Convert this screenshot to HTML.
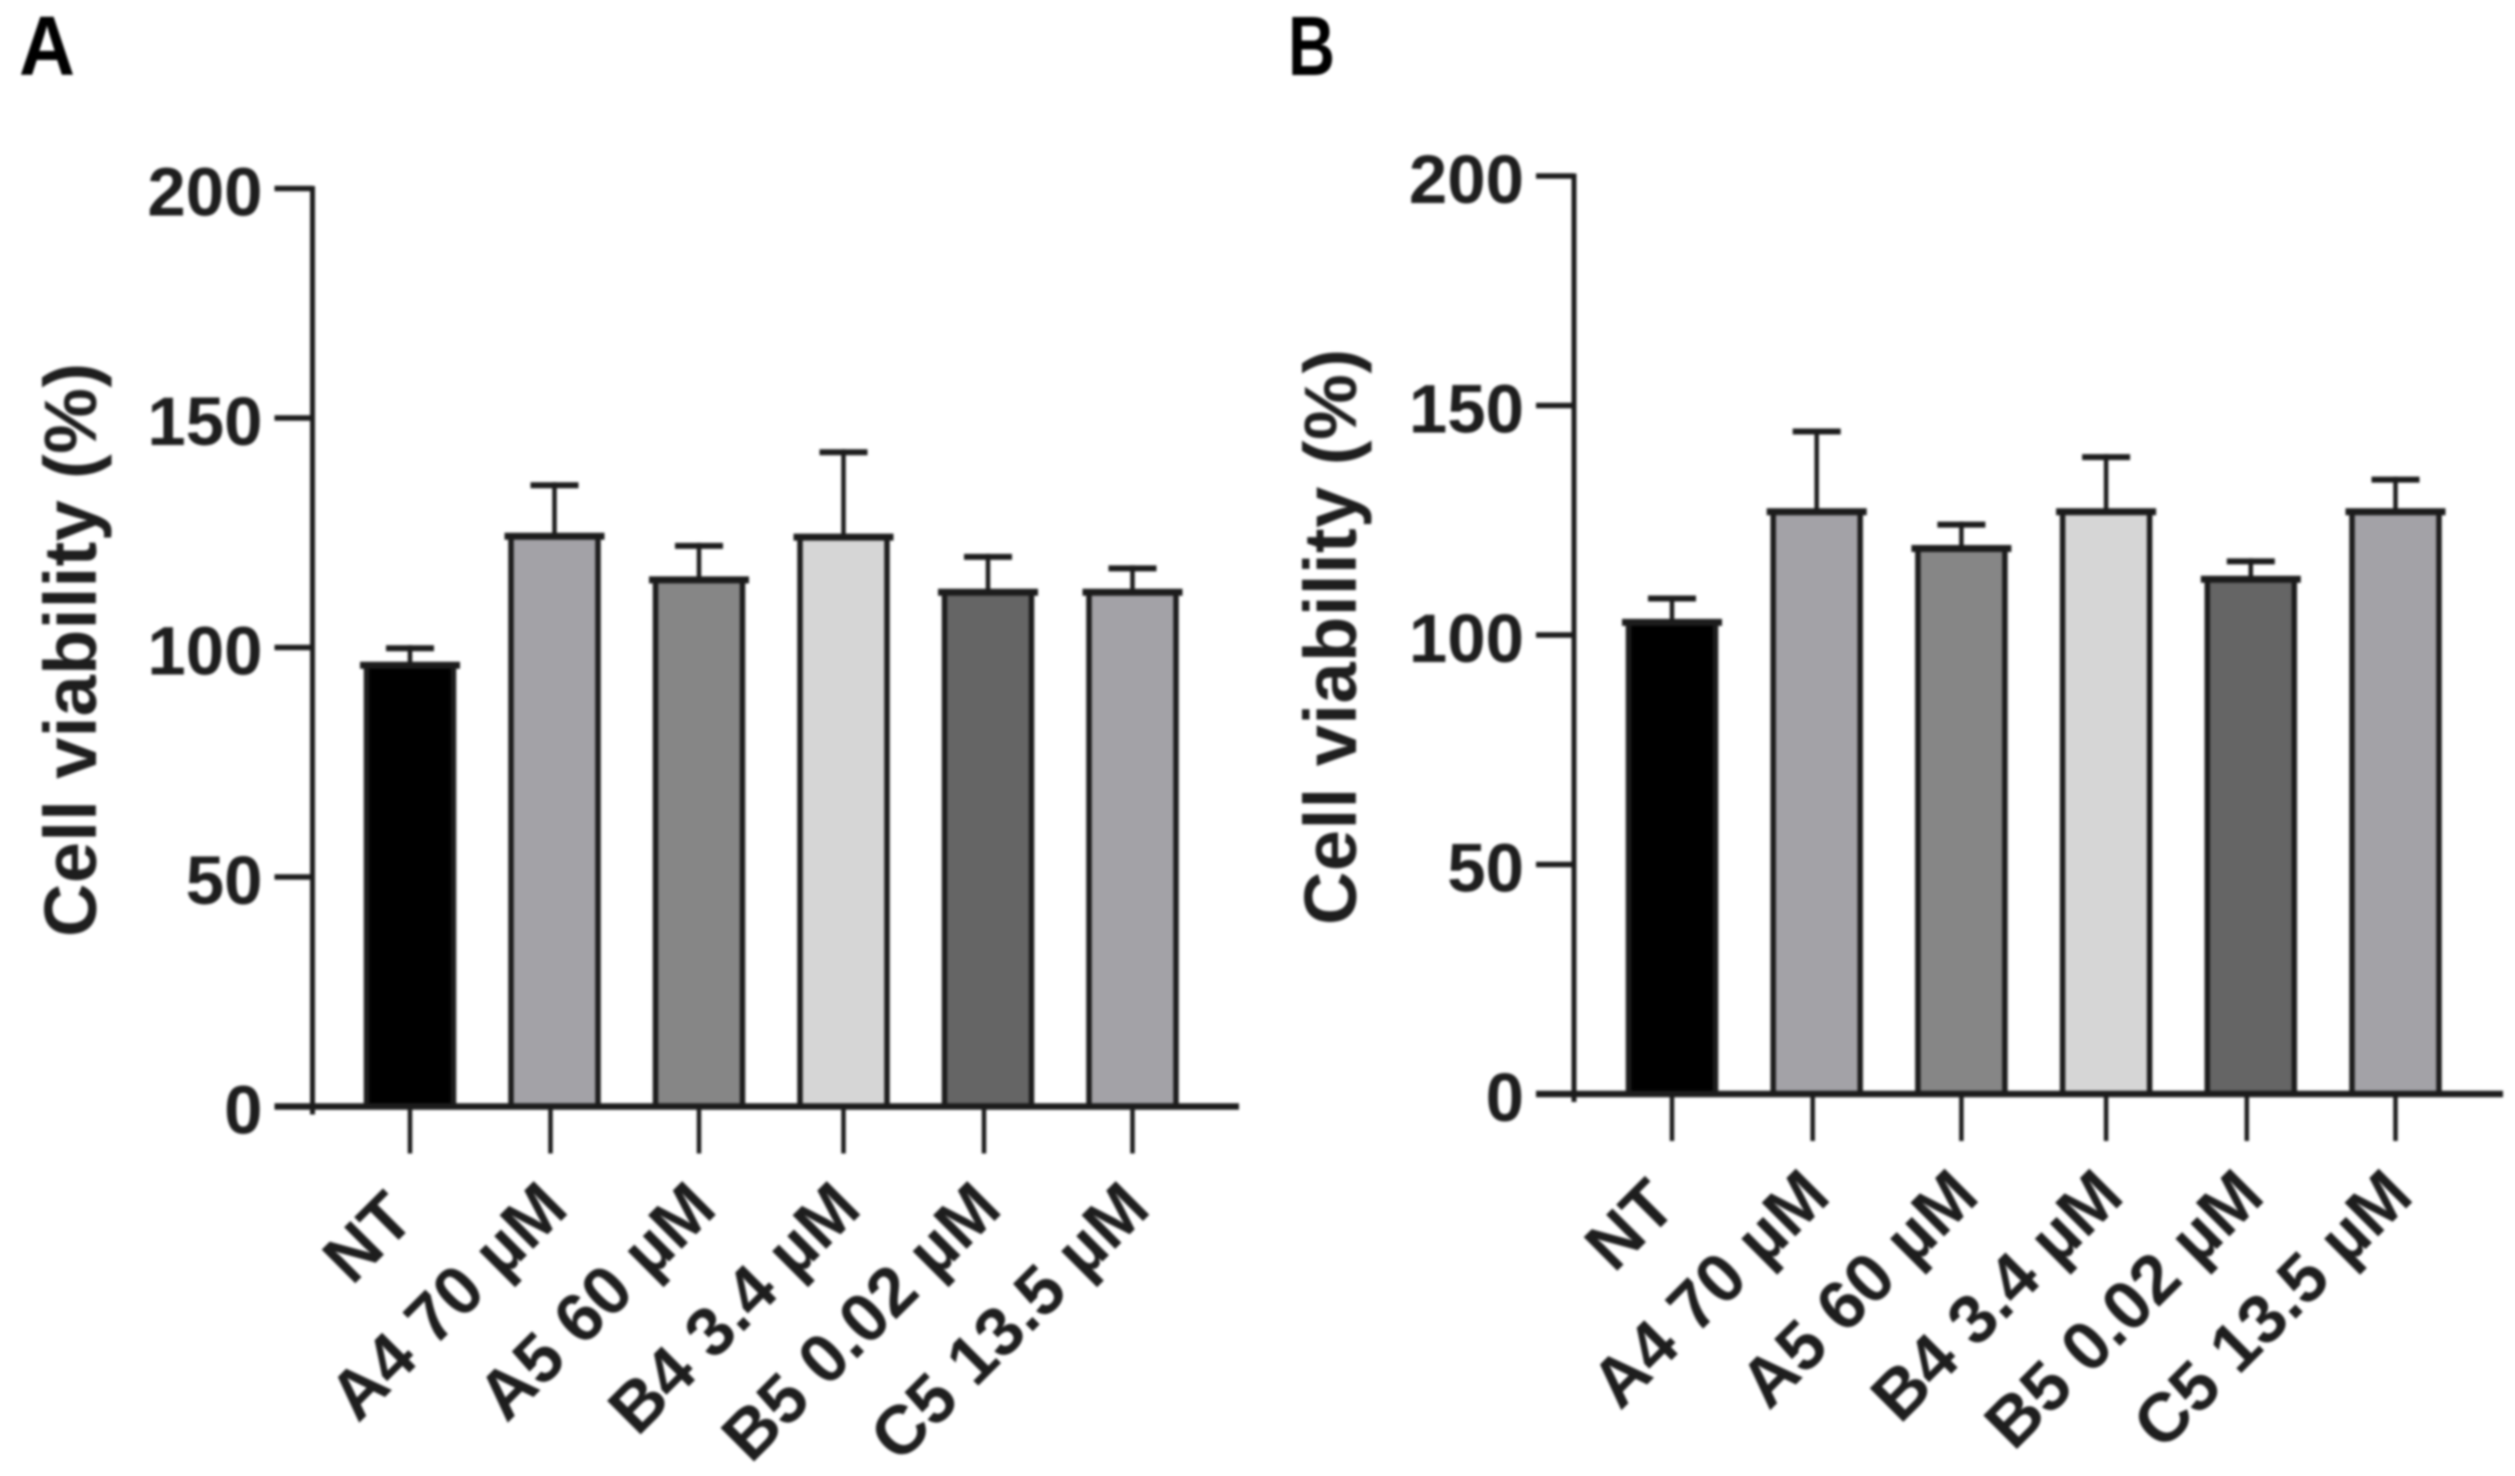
<!DOCTYPE html>
<html lang="en">
<head>
<meta charset="utf-8">
<title>Cell viability bar charts</title>
<style>
  html, body { margin: 0; padding: 0; background: #ffffff; }
  body { width: 2515px; height: 1476px; overflow: hidden; }
  svg { display: block; filter: blur(1.2px); }
  text { font-family: "Liberation Sans", Arial, sans-serif; fill: #1e1e1e; }
</style>
</head>
<body>
<svg id="figure" xmlns="http://www.w3.org/2000/svg" width="2515" height="1476" viewBox="0 0 2515 1476">
  <rect x="0" y="0" width="2515" height="1476" fill="#ffffff"/>
  <text x="19" y="75" font-size="84" font-weight="700" textLength="56" lengthAdjust="spacingAndGlyphs" style="fill:#000">A</text>
  <text x="1288" y="75" font-size="84" font-weight="700" textLength="47" lengthAdjust="spacingAndGlyphs" style="fill:#000">B</text>
  <text transform="translate(96 937) rotate(-90)" font-size="74" font-weight="700" textLength="574" xml:space="preserve">Cell viability (%)</text>
  <text transform="translate(1356 925) rotate(-90)" font-size="74" font-weight="700" textLength="576" xml:space="preserve">Cell viability (%)</text>
  <g id="panel-a"></g>
  <g id="panel-b"></g>
</svg>
<script>
const categories = ["NT", "A4 70 µM", "A5 60 µM", "B4 3.4 µM", "B5 0.02 µM", "C5 13.5 µM"];
const yTickLabels = [0, 50, 100, 150, 200];
const panelAValues = [96.8, 124.9, 115.4, 124.7, 112.7, 112.7];
const panelAErrorTops = [100.5, 136, 122.8, 143.2, 120.4, 117.9];
const panelBValues = [103.4, 127.5, 119.5, 127.5, 112.8, 127.5];
const panelBErrorTops = [108.6, 145, 124.7, 139.4, 116.7, 134.5];
const barFills = ["#000000", "#a3a2a7", "#868686", "#d6d6d6", "#656565", "#a3a2a7"];

const SVG_NS = "http://www.w3.org/2000/svg";
const INK = "#1c1c1c";

function make(parent, tag, attrs) {
  const el = document.createElementNS(SVG_NS, tag);
  for (const key in attrs) {
    el.setAttribute(key, attrs[key]);
  }
  parent.appendChild(el);
  return el;
}

function drawPanel(rootId, prefix, values, errorTops, layout) {
  const root = document.getElementById(rootId);
  const yScale = v => layout.baseY - v * layout.pxPerUnit;
  const xScale = i => layout.firstX + i * layout.step;

  values.forEach((value, i) => {
    const cx = xScale(i);
    const tickX = (i === 1 || i === 4) ? cx - 4 : cx;
    const top = yScale(value);
    const errTop = yScale(errorTops[i]);

    const bar = make(root, "rect", {
      x: cx - 43.5, y: top + 3, width: 87, height: layout.baseY - top - 3,
      fill: barFills[i], stroke: INK, "stroke-width": 5.5
    });
    
    

    const stem = make(root, "line", {
      x1: cx, x2: cx, y1: errTop, y2: top,
      stroke: INK, "stroke-width": 4.5
    });
    
    

    const cap = make(root, "line", {
      x1: cx - 24, x2: cx + 24, y1: errTop + 3, y2: errTop + 3,
      stroke: INK, "stroke-width": 6
    });
    
    

    const barTop = make(root, "line", {
      x1: cx - 50, x2: cx + 50, y1: top + 3, y2: top + 3,
      stroke: INK, "stroke-width": 7
    });
    
    

    const tick = make(root, "line", {
      x1: tickX, x2: tickX, y1: layout.baseY, y2: layout.baseY + 47,
      stroke: INK, "stroke-width": 4.5
    });
    
    

    const ax = tickX + 20 - (i === 0 ? 13 : 0);
    const ay = layout.baseY + 105 + (i === 0 ? 10 : 0);
    const label = make(root, "text", {
      x: ax, y: ay, "font-size": 69, "font-weight": 700,
      "text-anchor": "end",
      transform: "rotate(-45 " + ax + " " + ay + ")"
    });
    label.textContent = categories[i];
    
    
  });

  yTickLabels.forEach(v => {
    const y = yScale(v);
    const tick = make(root, "line", {
      x1: layout.axisX - 38, x2: layout.axisX, y1: y, y2: y,
      stroke: INK, "stroke-width": 5.5
    });
    
    

    const label = make(root, "text", {
      x: layout.axisX - 50, y: y + 27, "font-size": 69, "font-weight": 700,
      "text-anchor": "end"
    });
    label.textContent = String(v);
    
    
  });

  const yAxis = make(root, "line", {
    x1: layout.axisX, x2: layout.axisX,
    y1: yScale(yTickLabels[yTickLabels.length - 1]) - 2.5, y2: layout.baseY + 8,
    stroke: INK, "stroke-width": 5
  });
  
  

  const xAxis = make(root, "line", {
    x1: layout.axisX - 38, x2: layout.axisEnd, y1: layout.baseY, y2: layout.baseY,
    stroke: INK, "stroke-width": 6.5
  });
  
  
}

drawPanel("panel-a", "panel-a", panelAValues, panelAErrorTops,
  { baseY: 1106.5, pxPerUnit: 4.59, firstX: 410, step: 144.5, axisX: 312.5, axisEnd: 1239 });
drawPanel("panel-b", "panel-b", panelBValues, panelBErrorTops,
  { baseY: 1094, pxPerUnit: 4.59, firstX: 1672, step: 144.7, axisX: 1574, axisEnd: 2503 });
</script>
</body>
</html>
